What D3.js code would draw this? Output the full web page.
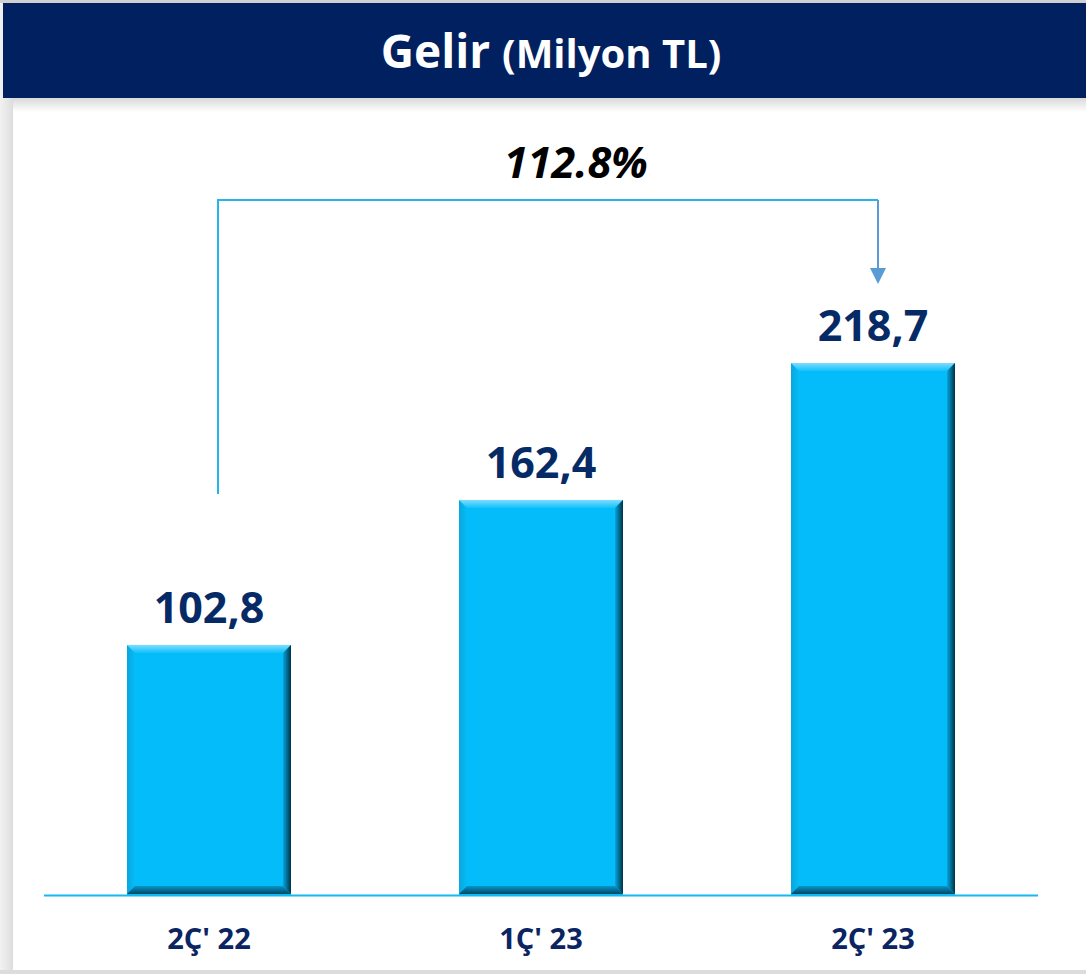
<!DOCTYPE html>
<html>
<head>
<meta charset="utf-8">
<script src="https://cdn.jsdelivr.net/npm/d3@7"></script>
<style>
  body { margin: 0; background: #fff; }
  svg { display: block; font-family: "Open Sans", "Noto Sans", sans-serif; }
</style>
</head>
<body>
<svg id="chart"></svg>
<script>
var categories = ["2Ç' 22", "1Ç' 23", "2Ç' 23"];
var values = [102.8, 162.4, 218.7];
var labels = ["102,8", "162,4", "218,7"];
var growthLabel = "112.8%";

var width = 1086, height = 974;
var baseY = 895;
var bevel = 8;

var svg = d3.select("#chart").attr("width", width).attr("height", height);
var defs = svg.append("defs");

// frame and shadows
var leftShade = defs.append("linearGradient").attr("id", "leftShade")
  .attr("x1", 0).attr("x2", 1).attr("y1", 0).attr("y2", 0);
leftShade.append("stop").attr("offset", 0).attr("stop-color", "#f2f2f2");
leftShade.append("stop").attr("offset", 0.6).attr("stop-color", "#e6e6e6");
leftShade.append("stop").attr("offset", 1).attr("stop-color", "#dcdcdc");

var headShade = defs.append("linearGradient").attr("id", "headShade")
  .attr("x1", 0).attr("x2", 0).attr("y1", 0).attr("y2", 1);
headShade.append("stop").attr("offset", 0).attr("stop-color", "#d9d9d9");
headShade.append("stop").attr("offset", 1).attr("stop-color", "#ffffff");

svg.append("rect").attr("x", 0).attr("y", 0).attr("width", width).attr("height", height).attr("fill", "#fff");
svg.append("rect").attr("x", 0).attr("y", 0).attr("width", 13).attr("height", 970).attr("fill", "url(#leftShade)");
svg.append("rect").attr("x", 0).attr("y", 0).attr("width", width).attr("height", 3).attr("fill", "#d0d0d0");
svg.append("rect").attr("x", 13).attr("y", 98).attr("width", width - 13).attr("height", 14).attr("fill", "url(#headShade)");
svg.append("rect").attr("x", 0).attr("y", 970).attr("width", width).attr("height", 4).attr("fill", "#dcdcdc");

// header
svg.append("rect").attr("x", 3).attr("y", 3).attr("width", width - 3).attr("height", 95).attr("fill", "#00205f");
var title = svg.append("text").attr("x", 551).attr("y", 68)
  .attr("text-anchor", "middle").attr("fill", "#fff").attr("font-weight", 700);
title.append("tspan").attr("font-size", 46).text("Gelir ");
title.append("tspan").attr("font-size", 40).text("(Milyon TL)");

// scales
var x = d3.scaleBand().domain(categories).range([43, 1039]).paddingInner(0.506).paddingOuter(0.253);
var y = d3.scaleLinear().domain([0, 218.7]).range([baseY, 363]);

// bar gradients
function grad(id, x1, y1, x2, y2, c1, c2) {
  var g = defs.append("linearGradient").attr("id", id)
    .attr("x1", x1).attr("y1", y1).attr("x2", x2).attr("y2", y2);
  g.append("stop").attr("offset", 0).attr("stop-color", c1);
  g.append("stop").attr("offset", 1).attr("stop-color", c2);
}
grad("bvTop", 0, 0, 0, 1, "#7fdcff", "#10c2fb");
grad("bvRight", 0, 0, 1, 0, "#04a6dd", "#003248");
grad("bvBottom", 0, 0, 0, 1, "#0796c8", "#004766");
grad("bvLeft", 0, 0, 1, 0, "#0aa6dc", "#04bcf8");

var bars = svg.selectAll("g.bar").data(values).enter().append("g").attr("class", "bar");

bars.append("rect")
  .attr("x", function (d, i) { return x(categories[i]); })
  .attr("y", function (d) { return y(d); })
  .attr("width", x.bandwidth())
  .attr("height", function (d) { return baseY - y(d); })
  .attr("fill", "#04bcf9");

function facet(fill, pts) {
  bars.append("polygon").attr("fill", fill)
    .attr("points", function (d, i) {
      var x0 = x(categories[i]), x1 = x0 + x.bandwidth(), y0 = y(d), y1 = baseY - 1;
      return pts(x0, x1, y0, y1).map(function (p) { return p.join(","); }).join(" ");
    });
}
facet("url(#bvLeft)", function (x0, x1, y0, y1) {
  return [[x0, y0], [x0 + bevel, y0 + bevel], [x0 + bevel, y1 - bevel], [x0, y1]];
});
facet("url(#bvTop)", function (x0, x1, y0, y1) {
  return [[x0, y0], [x1, y0], [x1 - bevel, y0 + bevel], [x0 + bevel, y0 + bevel]];
});
facet("url(#bvRight)", function (x0, x1, y0, y1) {
  return [[x1, y0], [x1, y1], [x1 - bevel, y1 - bevel], [x1 - bevel, y0 + bevel]];
});
facet("url(#bvBottom)", function (x0, x1, y0, y1) {
  return [[x0, y1], [x0 + bevel, y1 - bevel], [x1 - bevel, y1 - bevel], [x1, y1]];
});

// value labels
svg.selectAll("text.val").data(values).enter().append("text").attr("class", "val")
  .attr("x", function (d, i) { return x(categories[i]) + x.bandwidth() / 2; })
  .attr("y", function (d) { return y(d) - 22; })
  .attr("text-anchor", "middle").attr("font-size", 43).attr("font-weight", 700)
  .attr("fill", "#062a66")
  .text(function (d, i) { return labels[i]; });

// baseline
svg.append("line").attr("x1", 44).attr("x2", 1038).attr("y1", baseY + 0.5).attr("y2", baseY + 0.5)
  .attr("stroke", "#15b8ef").attr("stroke-width", 2);

// category labels
svg.selectAll("text.cat").data(categories).enter().append("text").attr("class", "cat")
  .attr("x", function (d) { return x(d) + x.bandwidth() / 2; })
  .attr("y", 949)
  .attr("text-anchor", "middle").attr("font-size", 29).attr("font-weight", 700)
  .attr("fill", "#0b2462")
  .text(function (d) { return d; });

// growth connector
var cx0 = x(categories[0]) + x.bandwidth() / 2 + 9;
var cx2 = x(categories[2]) + x.bandwidth() / 2 + 5;
var topY = 200;
svg.append("path")
  .attr("d", "M" + cx0 + "," + 494 + "V" + topY + "H" + cx2)
  .attr("fill", "none").attr("stroke", "#26b5ea").attr("stroke-width", 2);
svg.append("path")
  .attr("d", "M" + cx2 + "," + topY + "V" + 270)
  .attr("fill", "none").attr("stroke", "#5b9bd5").attr("stroke-width", 2);
svg.append("path")
  .attr("d", "M" + (cx2 - 8) + ",268L" + (cx2 + 8) + ",268L" + cx2 + ",284Z")
  .attr("fill", "#5b9bd5");

svg.append("text").attr("x", 576).attr("y", 178)
  .attr("text-anchor", "middle").attr("font-size", 43).attr("font-weight", 700)
  .attr("font-style", "italic").attr("fill", "#000")
  .text(growthLabel);
</script>
</body>
</html>
